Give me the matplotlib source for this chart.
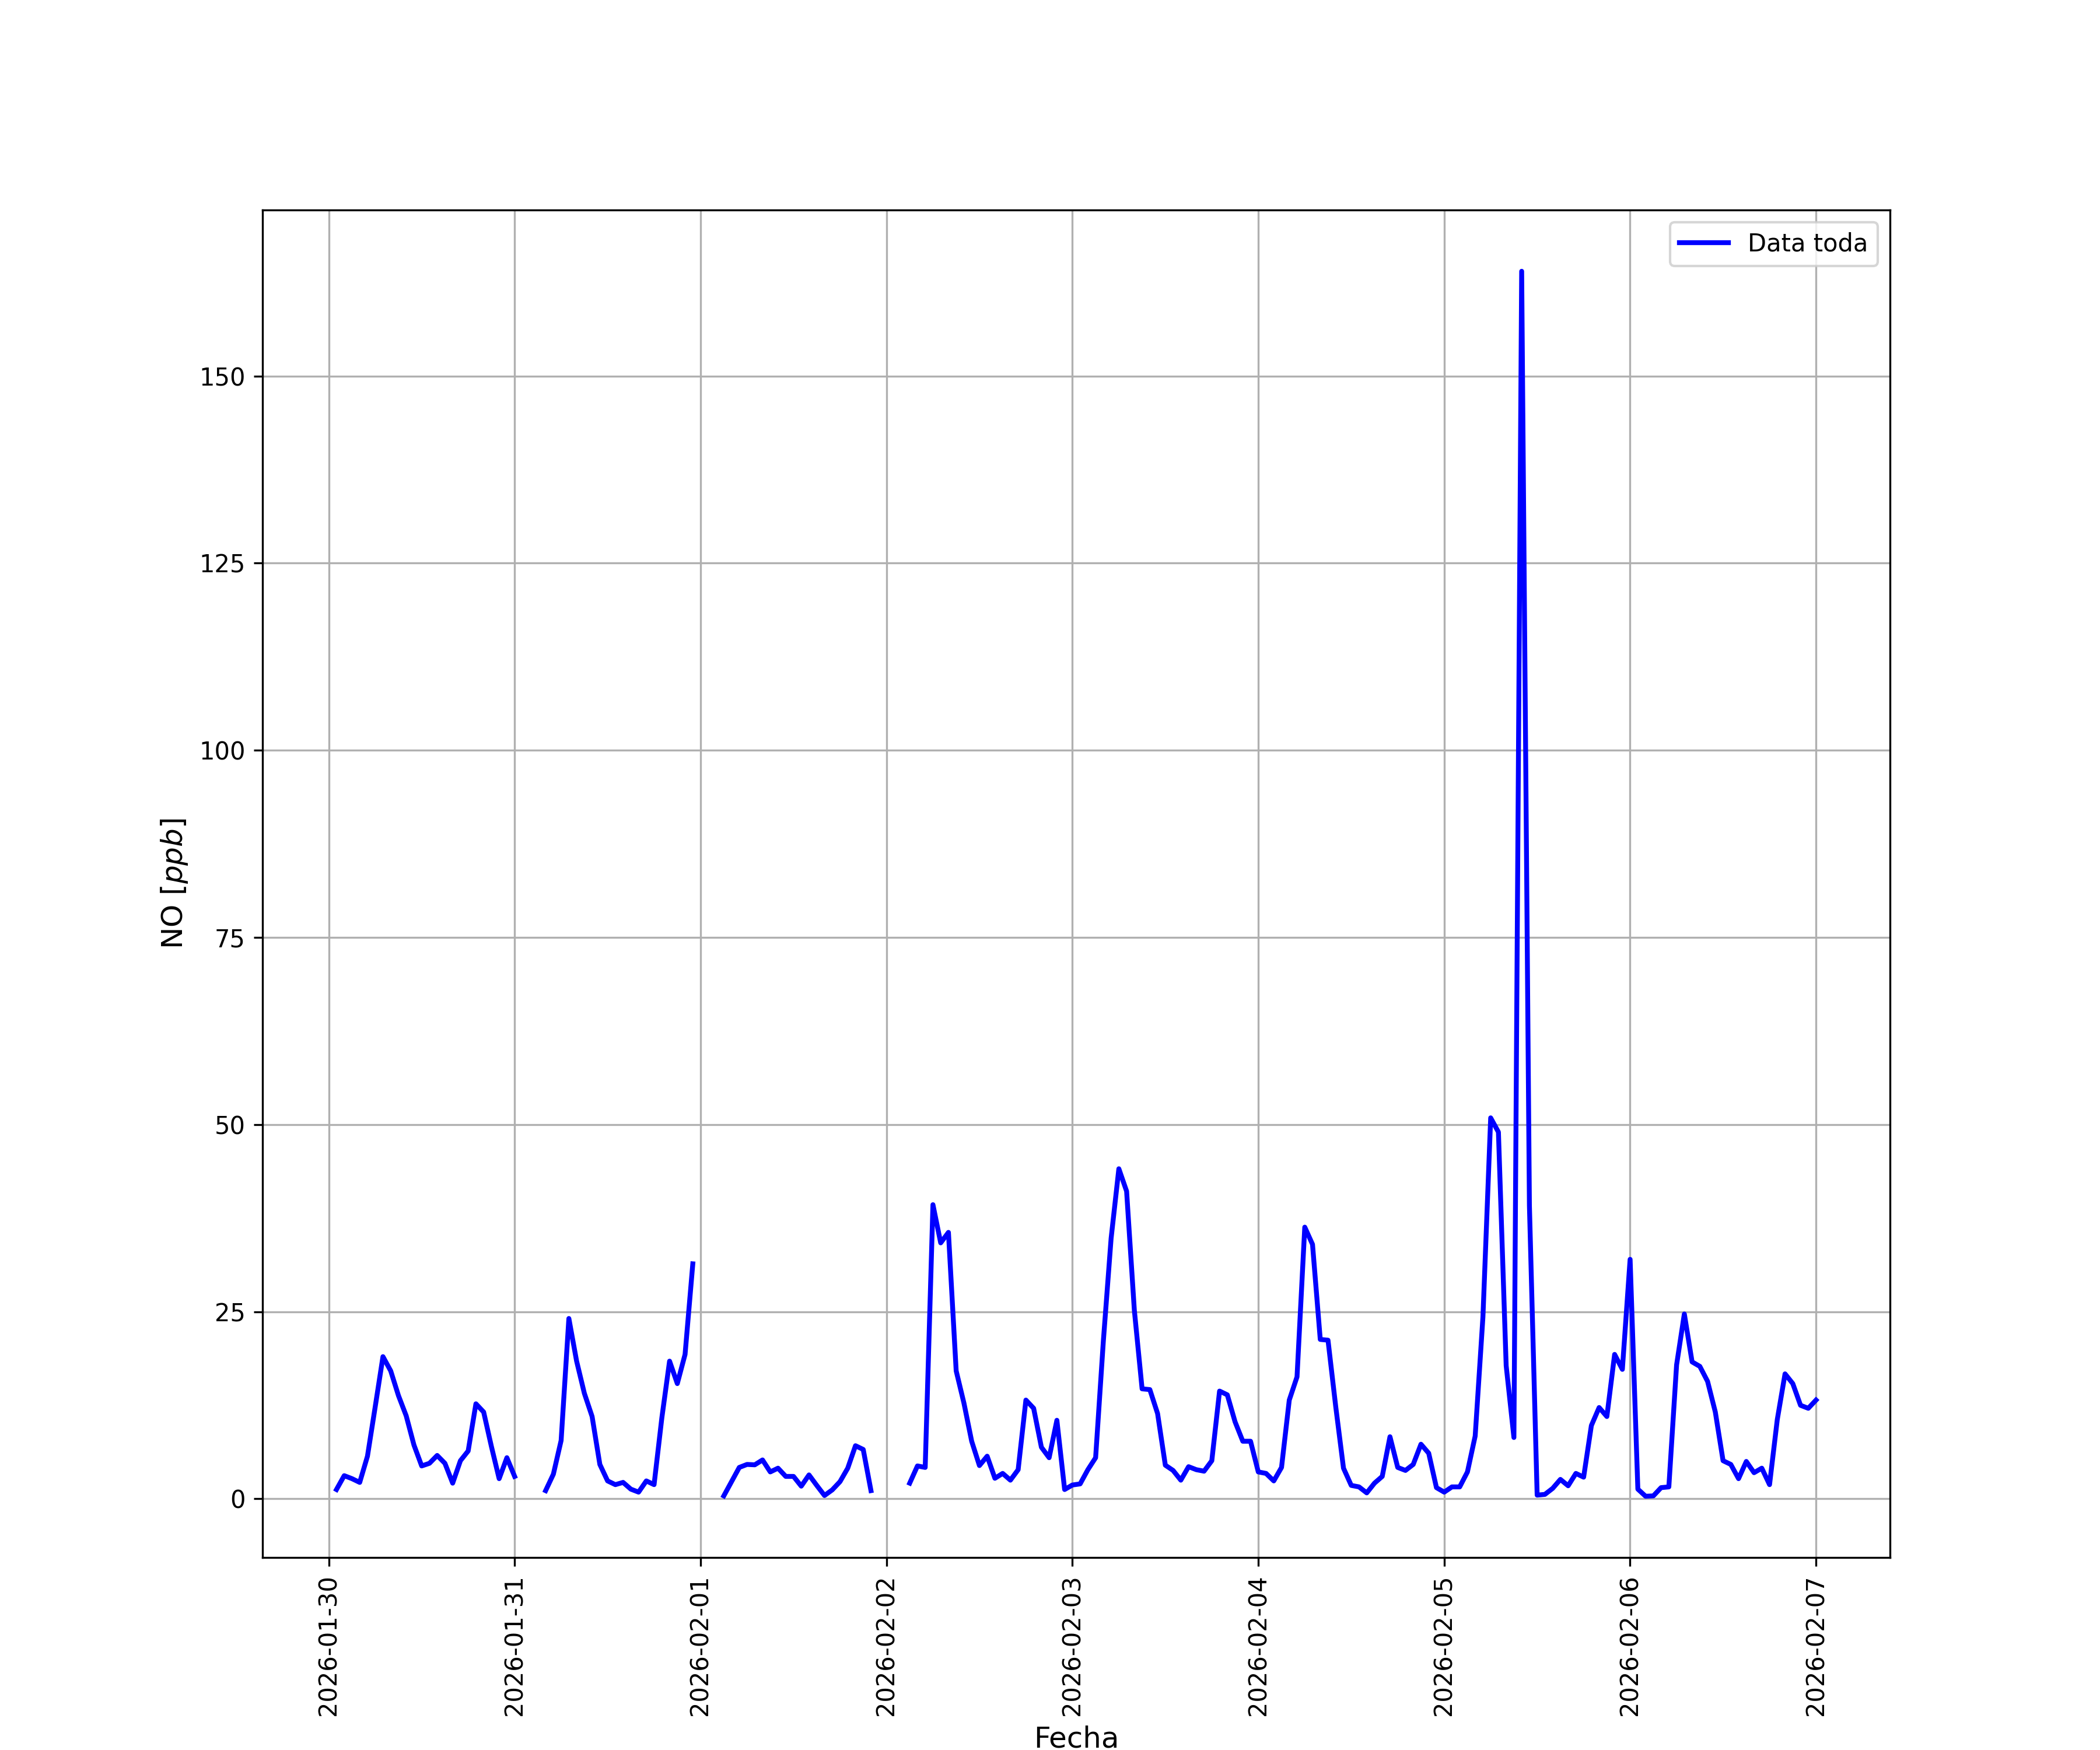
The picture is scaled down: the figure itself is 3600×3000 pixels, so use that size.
#!/usr/bin/env python3
"""
Serie horaria de NO [ppb], 2026-01-30 a 2026-02-07.
Cada lista diaria va de la hora 01:00 a las 00:00 del dia siguiente.
"""

import numpy as np
import pandas as pd
import matplotlib
matplotlib.use("Agg")
import matplotlib.pyplot as plt

nan = np.nan

START = "2026-01-30 01:00"
DAY_LABELS = ["2026-01-30", "2026-01-31", "2026-02-01", "2026-02-02",
              "2026-02-03", "2026-02-04", "2026-02-05", "2026-02-06"]

no_0130 = [1.25, 3.1, 2.7, 2.2, 5.7, 12.3, 19.0, 17.1, 13.8, 11.1, 7.2, 4.4,
           4.75, 5.8, 4.75, 2.1, 5.1, 6.4, 12.7, 11.6, 7.0, 2.7, 5.5, 3.0]
no_0131 = [nan, nan, nan, 1.1, 3.3, 7.8, 24.1, 18.4, 14.1, 11.0, 4.6, 2.4,
           1.9, 2.2, 1.3, 0.9, 2.4, 1.9, 10.8, 18.4, 15.4, 19.3, 31.4, nan]
no_0201 = [nan, nan, 0.4, 2.3, 4.2, 4.6, 4.55, 5.2, 3.6, 4.1, 3.0, 3.0,
           1.7, 3.2, 1.8, 0.45, 1.2, 2.3, 4.1, 7.1, 6.6, 1.1, nan, nan]
no_0202 = [nan, nan, 2.1, 4.4, 4.2, 39.3, 34.2, 35.6, 17.1, 12.8, 7.7, 4.45,
           5.7, 2.75, 3.4, 2.5, 3.9, 13.2, 12.1, 6.9, 5.5, 10.5, 1.25, 1.85]
no_0203 = [2.0, 3.9, 5.5, 21.1, 34.8, 44.1, 41.1, 25.2, 14.7, 14.6, 11.4, 4.5,
           3.8, 2.5, 4.3, 3.9, 3.7, 5.1, 14.4, 13.9, 10.3, 7.7, 7.7, 3.6]
no_0204 = [3.4, 2.4, 4.2, 13.2, 16.3, 36.3, 34.0, 21.3, 21.2, 12.3, 4.1, 1.8,
           1.6, 0.8, 2.1, 3.0, 8.3, 4.2, 3.8, 4.6, 7.3, 6.1, 1.5, 0.9]
no_0205 = [1.6, 1.6, 3.6, 8.4, 24.3, 50.9, 49.0, 17.8, 8.2, 164.0, 39.2, 0.5,
           0.6, 1.4, 2.6, 1.75, 3.4, 2.9, 9.8, 12.2, 11.0, 19.3, 17.3, 32.0]
no_0206 = [1.3, 0.35, 0.4, 1.5, 1.6, 17.9, 24.7, 18.3, 17.7, 15.7, 11.6, 5.1,
           4.6, 2.7, 5.0, 3.5, 4.1, 1.9, 10.6, 16.7, 15.4, 12.5, 12.1, 13.2]


def main():
    values = np.array(no_0130 + no_0131 + no_0201 + no_0202 +
                      no_0203 + no_0204 + no_0205 + no_0206, dtype=float)
    times = pd.date_range(START, periods=len(values), freq="h")

    fig, ax = plt.subplots(figsize=(12, 10), dpi=300)

    ax.plot(times, values, color="blue", linewidth=2, label="Data toda")

    ax.set_xlabel("Fecha", fontsize=12)
    ax.set_ylabel("NO [$ppb$]", fontsize=12)
    ax.grid(True)
    ax.legend(loc="upper right")
    plt.setp(ax.get_xticklabels(), rotation=90)

    fig.savefig("out.png")
    plt.close(fig)


if __name__ == "__main__":
    main()
